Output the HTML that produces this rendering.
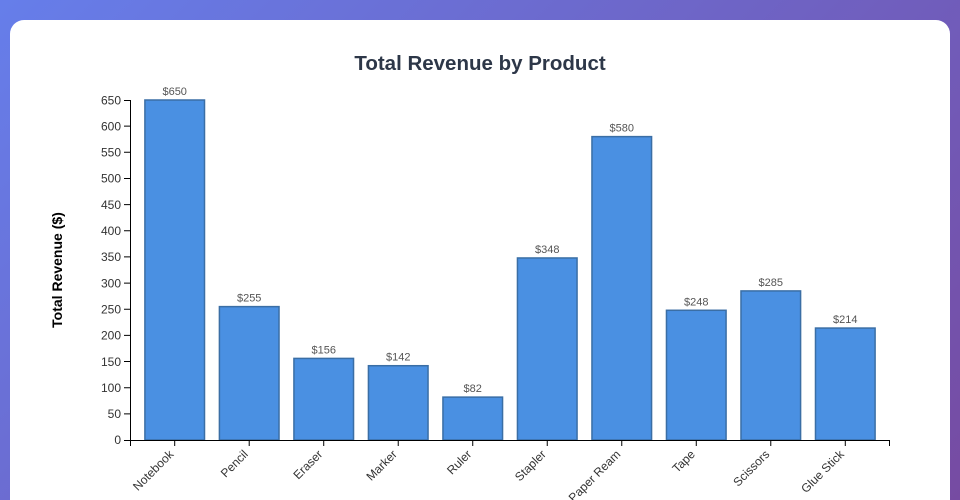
<!DOCTYPE html>
<html><head><meta charset="utf-8"><style>
html,body{margin:0;padding:0;width:960px;height:500px;overflow:hidden;}
body{background:linear-gradient(135deg,#667eea 0%,#764ba2 100%);position:relative;font-family:"Liberation Sans",sans-serif;}
.card{position:absolute;left:10px;top:20px;width:940px;height:480px;background:#fff;border-radius:14px 14px 0 0;}
svg{position:absolute;left:0;top:0;}
</style></head><body>
<div class="card"></div>
<svg width="960" height="500" viewBox="0 0 960 500" font-family="Liberation Sans, sans-serif">
<text x="480" y="70" text-anchor="middle" font-size="20.5" font-weight="bold" fill="#2d3748">Total Revenue by Product</text>
<text transform="translate(62,270) rotate(-90)" text-anchor="middle" font-size="14" font-weight="bold" fill="#000">Total Revenue ($)</text>
<g fill="#4a90e2" stroke="#3a6ea5" stroke-width="1.5">
<rect x="144.90" y="100" width="59.61" height="340"/>
<rect x="219.41" y="306.62" width="59.61" height="133.38"/>
<rect x="293.92" y="358.40" width="59.61" height="81.60"/>
<rect x="368.43" y="365.72" width="59.61" height="74.28"/>
<rect x="442.94" y="397.11" width="59.61" height="42.89"/>
<rect x="517.45" y="257.97" width="59.61" height="182.03"/>
<rect x="591.96" y="136.62" width="59.61" height="303.38"/>
<rect x="666.47" y="310.28" width="59.61" height="129.72"/>
<rect x="740.98" y="290.92" width="59.61" height="149.08"/>
<rect x="815.49" y="328.06" width="59.61" height="111.94"/>
</g>
<g font-size="11" fill="#555" text-anchor="middle">
<text x="174.70" y="95">$650</text>
<text x="249.21" y="301.6">$255</text>
<text x="323.72" y="353.4">$156</text>
<text x="398.23" y="360.7">$142</text>
<text x="472.74" y="392.1">$82</text>
<text x="547.25" y="253">$348</text>
<text x="621.76" y="131.6">$580</text>
<text x="696.27" y="305.3">$248</text>
<text x="770.78" y="285.9">$285</text>
<text x="845.29" y="323.1">$214</text>
</g>
<g stroke="#000" stroke-width="1" fill="none">
<path d="M124,100.5H130.5V440.5H124"/>
<path d="M130.5,446V440.5H889.5V446"/>
<path d="M124,413.85h6M124,387.69h6M124,361.54h6M124,335.38h6M124,309.23h6M124,283.08h6M124,256.92h6M124,230.77h6M124,204.62h6M124,178.46h6M124,152.31h6M124,126.15h6"/>
<path d="M174.7,440v6M249.21,440v6M323.72,440v6M398.23,440v6M472.74,440v6M547.25,440v6M621.76,440v6M696.27,440v6M770.78,440v6M845.29,440v6"/>
</g>
<g font-size="12" fill="#333" text-anchor="end">
<text x="121" y="444">0</text>
<text x="121" y="418">50</text>
<text x="121" y="392">100</text>
<text x="121" y="366">150</text>
<text x="121" y="339.5">200</text>
<text x="121" y="313.5">250</text>
<text x="121" y="287.5">300</text>
<text x="121" y="261">350</text>
<text x="121" y="235">400</text>
<text x="121" y="209">450</text>
<text x="121" y="182.5">500</text>
<text x="121" y="156.5">550</text>
<text x="121" y="130.5">600</text>
<text x="121" y="104.5">650</text>
</g>
<g font-size="12" fill="#333" text-anchor="end">
<text transform="translate(174.2,455) rotate(-45)">Notebook</text>
<text transform="translate(248.7,455) rotate(-45)">Pencil</text>
<text transform="translate(323.2,455) rotate(-45)">Eraser</text>
<text transform="translate(397.7,455) rotate(-45)">Marker</text>
<text transform="translate(472.2,455) rotate(-45)">Ruler</text>
<text transform="translate(546.7,455) rotate(-45)">Stapler</text>
<text transform="translate(621.2,455) rotate(-45)">Paper Ream</text>
<text transform="translate(695.7,455) rotate(-45)">Tape</text>
<text transform="translate(770.2,455) rotate(-45)">Scissors</text>
<text transform="translate(844.7,455) rotate(-45)">Glue Stick</text>
</g>
</svg>
</body></html>
